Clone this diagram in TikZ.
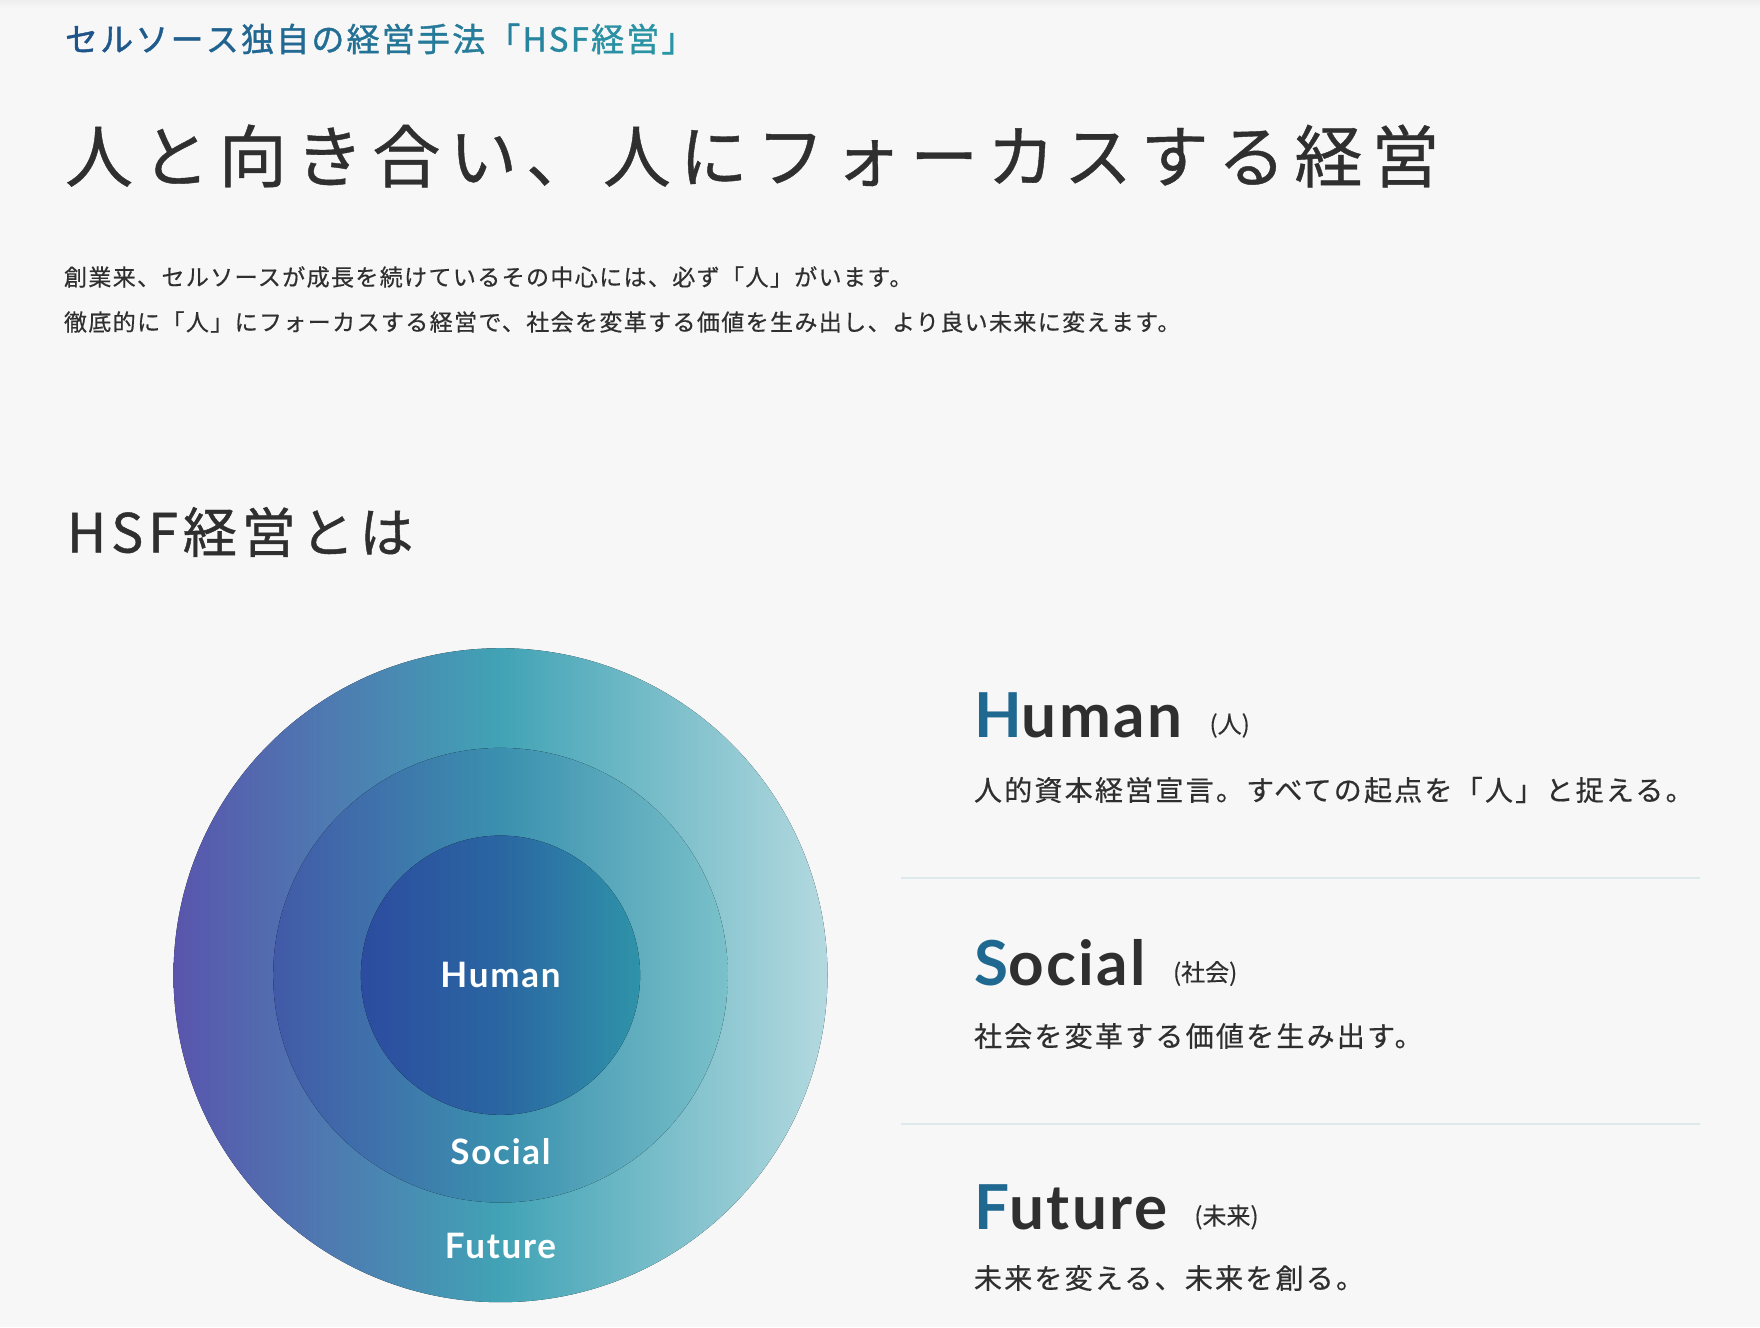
\documentclass[tikz,border=0pt]{standalone}
\usepackage{fontspec}
\setmainfont{Lato}
\newfontfamily\jp{Noto Sans CJK JP}
\definecolor{bg}{HTML}{F7F7F7}
\definecolor{topshade}{HTML}{EEEEEE}
\definecolor{ink}{HTML}{2F2F2F}
\definecolor{accent}{HTML}{1F6890}
\definecolor{subA}{HTML}{1E5489}
\definecolor{subB}{HTML}{2B97A6}
\definecolor{divline}{HTML}{DDE9EB}
\definecolor{oL}{HTML}{5955AD}
\definecolor{oM}{HTML}{41A3B5}
\definecolor{oR}{HTML}{B3D9DF}
\definecolor{mL}{HTML}{4259A8}
\definecolor{mM}{HTML}{3A90AE}
\definecolor{mR}{HTML}{7AC1CA}
\definecolor{iL}{HTML}{2C4C9F}
\definecolor{iM}{HTML}{2A66A2}
\definecolor{iR}{HTML}{2F93A9}
\newcommand\sg[2]{\textcolor{subA!#1!subB}{#2}\kern2.2pt}
\newcommand\jpf[3]{\jp\fontsize{#1}{#1}\selectfont\addfontfeature{LetterSpace=#2,FakeBold=#3}}
\newcommand\latf[2]{\fontsize{#1}{#1}\selectfont\addfontfeature{LetterSpace=#2}}
\tikzset{
  txt/.style={inner sep=0pt, outer sep=0pt, text=ink, anchor=west},
  head/.style={inner sep=0pt, outer sep=0pt, text=ink, anchor=base west, font=\bfseries\latf{62}{4}},
  small/.style={inner sep=0pt, outer sep=0pt, text=ink, anchor=west, font=\jpf{24}{0}{0.3}},
  desc/.style={txt, font=\jpf{28}{8}{0.5}},
  para/.style={txt, font=\jpf{23}{6}{0.5}},
  ringlabel/.style={inner sep=0pt, outer sep=0pt, text=white, font=\bfseries\latf{35}{5}},
  divider/.style={draw=divline, line width=2pt},
}
\begin{document}
\begin{tikzpicture}[x=1pt,y=-1pt]
\useasboundingbox (0,0) rectangle (1760,1327);
\fill[bg] (0,0) rectangle (1760,1327);
\fill[top color=topshade, bottom color=bg] (0,0) rectangle (1760,9);

% header texts
\node[txt, font=\jpf{33}{0}{1.2}] (subtitle) at (65,39) {\sg{100}{セ}\sg{94}{ル}\sg{89}{ソ}\sg{83}{ー}\sg{78}{ス}\sg{72}{独}\sg{67}{自}\sg{61}{の}\sg{56}{経}\sg{50}{営}\sg{44}{手}\sg{39}{法}\sg{33}{「}\sg{28}{H}\sg{22}{S}\sg{17}{F}\sg{11}{経}\sg{6}{営}\textcolor{subB}{」}};
\node[txt, font=\jpf{68}{13}{0.6}] (title) at (65,156) {人と向き合い、人にフォーカスする経営};
\node[para] (para1) at (64,277) {創業来、セルソースが成長を続けているその中心には、必ず「人」がいます。};
\node[para] (para2) at (64,322) {徹底的に「人」にフォーカスする経営で、社会を変革する価値を生み出し、より良い未来に変えます。};
\node[txt, font=\jpf{54}{9}{0.8}] (hsf) at (67,532) {HSF経営とは};

% rings
\coordinate (c) at (500.5,975.2);
\fill[left color=oL, right color=oR, middle color=oM] (c) circle[radius=327];
\fill[left color=mL, right color=mR, middle color=mM] (c) circle[radius=227.3];
\fill[left color=iL, right color=iR, middle color=iM] (c) circle[radius=139.6];
\node[ringlabel] (lhuman) at (500.5,975.4) {Human};
\node[ringlabel] (lsocial) at (500.5,1151.7) {Social};
\node[ringlabel] (lfuture) at (500.5,1246) {Future};

% right column
\node[head] (hhuman) at (974,737.5) {\textcolor{accent}{H}uman};
\node[small] (khuman) at ([xshift=27pt,yshift=12pt]hhuman.base east) {(人)};
\node[desc] (dhuman) at (974,790) {人的資本経営宣言。すべての起点を「人」と捉える。};
\coordinate (d1a) at (901,878);
\coordinate (d1b) at (1700,878);
\draw[divider] (d1a) -- (d1b);
\node[head] (hsocial) at (974,985.5) {\textcolor{accent}{S}ocial};
\node[small] (ksocial) at ([xshift=27pt,yshift=12pt]hsocial.base east) {(社会)};
\node[desc] (dsocial) at (974,1036) {社会を変革する価値を生み出す。};
\coordinate (d2a) at (901,1123.5);
\coordinate (d2b) at (1700,1123.5);
\draw[divider] (d2a) -- (d2b);
\node[head] (hfuture) at (974,1229) {\textcolor{accent}{F}uture};
\node[small] (kfuture) at ([xshift=27pt,yshift=12pt]hfuture.base east) {(未来)};
\node[desc] (dfuture) at (974,1278) {未来を変える、未来を創る。};
\end{tikzpicture}
\end{document}
